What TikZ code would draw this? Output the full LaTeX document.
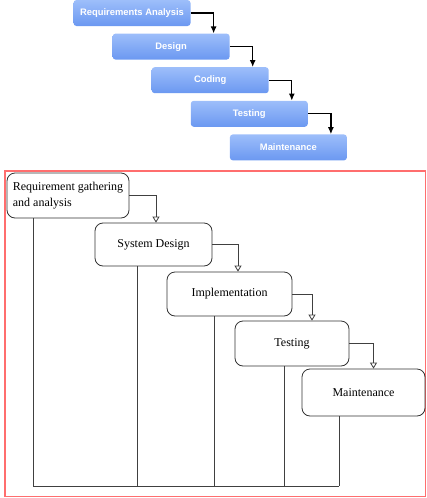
\documentclass[tikz,border=0pt]{standalone}
\usepackage{fontspec}
\setmainfont{Liberation Serif}
\setsansfont{Liberation Sans}
\usetikzlibrary{arrows.meta,calc}
\definecolor{boxtop}{HTML}{9DBEFA}
\definecolor{boxbot}{HTML}{6B98F1}
\definecolor{framered}{HTML}{FF6E6E}
\tikzstyle{topbox}=[rounded corners=3pt, top color=boxtop, bottom color=boxbot, text=white, font=\sffamily\bfseries\fontsize{9.4}{10}\selectfont, minimum width=117pt, minimum height=26pt, inner sep=0pt]
\tikzstyle{stepline}=[-{Latex[length=7pt,width=6pt]}, line width=1.2pt]
\tikzstyle{phase}=[draw=black!80, rounded corners=8pt, line width=0.8pt, font=\fontsize{12}{16}\selectfont, inner sep=0pt]
\tikzstyle{flow}=[-{Triangle[open,length=6pt,width=7pt]}, draw=black!75, line width=0.8pt]
\tikzstyle{rail}=[draw=black!75, line width=0.8pt]

\begin{document}
\begin{tikzpicture}[x=1pt,y=-1pt]
\useasboundingbox (0,0) rectangle (426,498);
% blue cascade
\foreach \n/\t [count=\i from 0] in {t1/Requirements Analysis, t2/Design, t3/Coding, t4/Testing, t5/Maintenance} {
	\node[topbox] (\n) at (132+39.1*\i, 13+33.6*\i) {\t};
}
\foreach \a/\b in {t1/t2, t2/t3, t3/t4, t4/t5} {
	\draw[stepline] (\a.east) -| ([xshift=42.5pt]\b.north);
}
% framed cascade
\draw[framered, line width=1.2pt] (5,171) rectangle (425.5,496.5);
\node[phase, minimum width=122pt, minimum height=45pt, align=left] (A) at (68,195.5) {Requirement gathering\\and analysis};
\node[phase, minimum width=117pt, minimum height=43pt] (B) at (153.5,244.5) {System Design};
\node[phase, minimum width=125pt, minimum height=44pt] (C) at (229.5,294) {Implementation};
\node[phase, minimum width=114pt, minimum height=45pt] (D) at (292,343.5) {Testing};
\node[phase, minimum width=123pt, minimum height=47pt] (E) at (363.5,392.5) {Maintenance};
\draw[flow] (A.east) -| ([xshift=2.5pt]B.north);
\draw[flow] (B.east) -| ([xshift=8.5pt]C.north);
\draw[flow] (C.east) -| ([xshift=20pt]D.north);
\draw[flow] (D.east) -| ([xshift=10pt]E.north);
\foreach \n/\x in {A/33, B/137, C/214, D/284, E/339} {
	\coordinate (f\n) at (\x,486);
	\draw[rail] (f\n |- \n.south) -- (f\n);
}
\draw[rail] (fA) -- (fE);
\end{tikzpicture}
\end{document}
